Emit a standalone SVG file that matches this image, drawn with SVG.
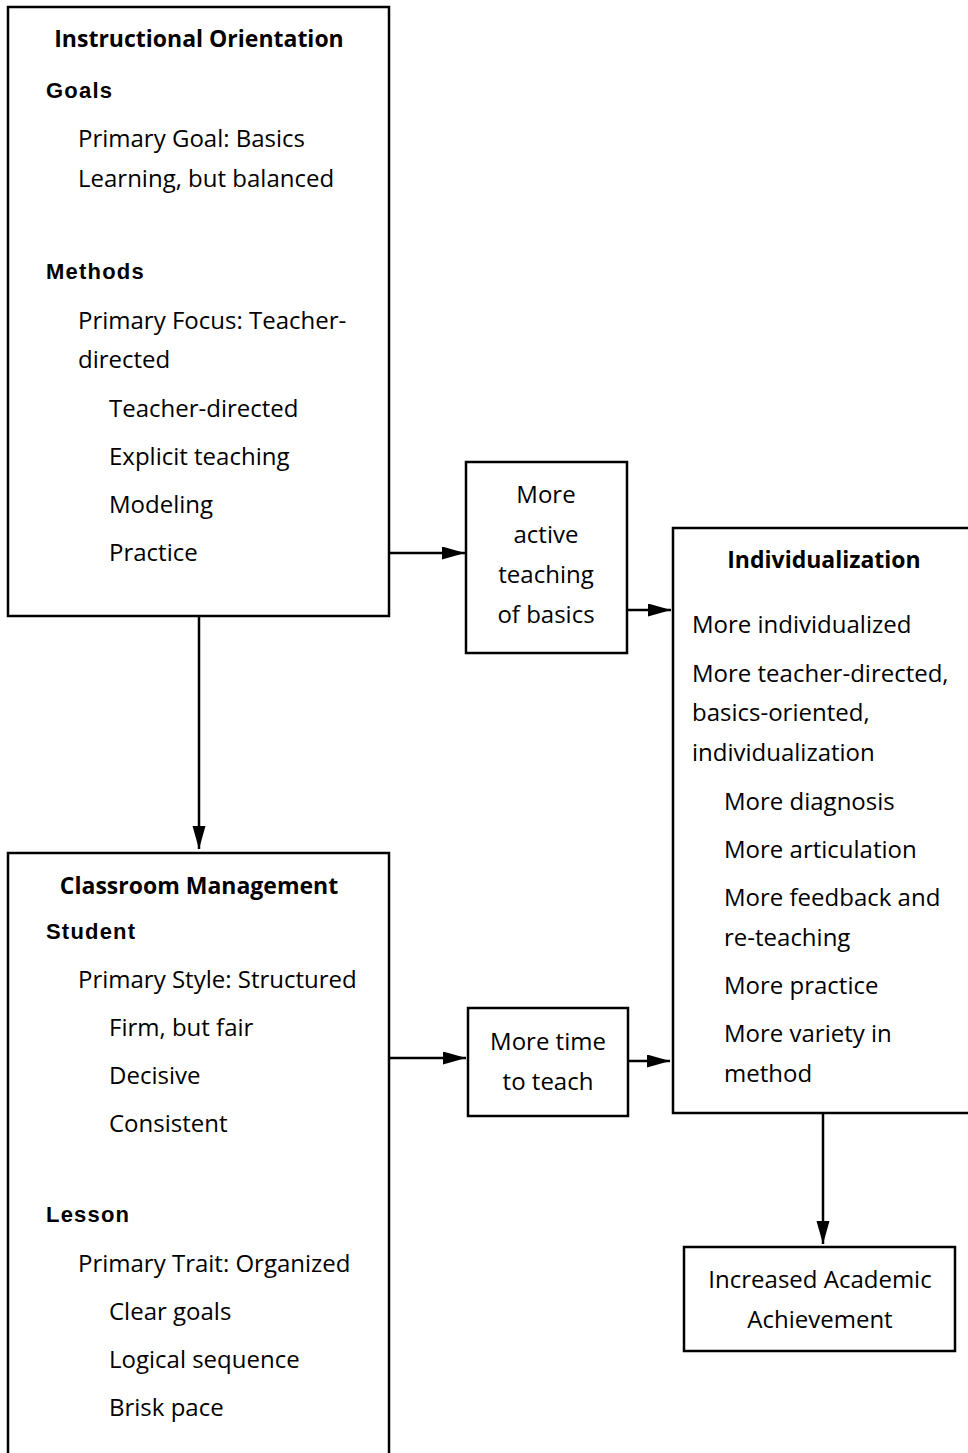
<svg xmlns="http://www.w3.org/2000/svg" width="968" height="1453" viewBox="0 0 968 1453">
<style>
.box{fill:#fff;stroke:#000;stroke-width:2.5}
.t{font-family:"Open Sans","Liberation Sans",sans-serif;font-size:24px;fill:#000}
.c{text-anchor:middle}
.h{font-family:"Open Sans","Liberation Sans",sans-serif;font-size:23px;font-weight:700;fill:#000;text-anchor:middle}
.s{font-family:"Liberation Sans",Arial,sans-serif;font-size:22px;font-weight:700;letter-spacing:1.2px;fill:#000}
.con{stroke:#000;stroke-width:2.5;fill:none}
</style>
<defs>
<marker id="arr" markerUnits="userSpaceOnUse" markerWidth="24" markerHeight="14" refX="23" refY="6.5" orient="auto">
<path d="M0,0 L23,6.5 L0,13 z" fill="#000"/>
</marker>
</defs>
<g id="connectors">
<line class="con" x1="389" y1="553" x2="465" y2="553" marker-end="url(#arr)"/>
<line class="con" x1="627" y1="610" x2="671" y2="610" marker-end="url(#arr)"/>
<line class="con" x1="199" y1="616" x2="199" y2="849" marker-end="url(#arr)"/>
<line class="con" x1="389" y1="1058" x2="466" y2="1058" marker-end="url(#arr)"/>
<line class="con" x1="628" y1="1061" x2="670" y2="1061" marker-end="url(#arr)"/>
<line class="con" x1="823" y1="1113" x2="823" y2="1244" marker-end="url(#arr)"/>
</g>
<g id="instructional-orientation">
<rect class="box" x="8" y="7" width="381" height="609"/>
<text class="h" x="199" y="47">Instructional Orientation</text>
<text class="s" x="46" y="98">Goals</text>
<text class="t" x="78" y="147">Primary Goal: Basics</text>
<text class="t" x="78" y="187">Learning, but balanced</text>
<text class="s" x="46" y="279">Methods</text>
<text class="t" x="78" y="329">Primary Focus: Teacher-</text>
<text class="t" x="78" y="368">directed</text>
<text class="t" x="109" y="417">Teacher-directed</text>
<text class="t" x="109" y="465">Explicit teaching</text>
<text class="t" x="109" y="513">Modeling</text>
<text class="t" x="109" y="561">Practice</text>
</g>
<g id="active-teaching">
<rect class="box" x="466" y="462" width="161" height="191"/>
<text class="t c" x="546" y="503">More</text>
<text class="t c" x="546" y="543">active</text>
<text class="t c" x="546" y="583">teaching</text>
<text class="t c" x="546" y="623">of basics</text>
</g>
<g id="individualization">
<rect class="box" x="673" y="528" width="310" height="585"/>
<text class="h" x="824" y="568">Individualization</text>
<text class="t" x="692" y="633">More individualized</text>
<text class="t" x="692" y="682">More teacher-directed,</text>
<text class="t" x="692" y="721">basics-oriented,</text>
<text class="t" x="692" y="761">individualization</text>
<text class="t" x="724" y="810">More diagnosis</text>
<text class="t" x="724" y="858">More articulation</text>
<text class="t" x="724" y="906">More feedback and</text>
<text class="t" x="724" y="946">re-teaching</text>
<text class="t" x="724" y="994">More practice</text>
<text class="t" x="724" y="1042">More variety in</text>
<text class="t" x="724" y="1082">method</text>
</g>
<g id="classroom-management">
<rect class="box" x="8" y="853" width="381" height="620"/>
<text class="h" x="199" y="894">Classroom Management</text>
<text class="s" x="46" y="939">Student</text>
<text class="t" x="78" y="988">Primary Style: Structured</text>
<text class="t" x="109" y="1036">Firm, but fair</text>
<text class="t" x="109" y="1084">Decisive</text>
<text class="t" x="109" y="1132">Consistent</text>
<text class="s" x="46" y="1222">Lesson</text>
<text class="t" x="78" y="1272">Primary Trait: Organized</text>
<text class="t" x="109" y="1320">Clear goals</text>
<text class="t" x="109" y="1368">Logical sequence</text>
<text class="t" x="109" y="1416">Brisk pace</text>
</g>
<g id="time-to-teach">
<rect class="box" x="468" y="1008" width="160" height="108"/>
<text class="t c" x="548" y="1050">More time</text>
<text class="t c" x="548" y="1090">to teach</text>
</g>
<g id="achievement">
<rect class="box" x="684" y="1247" width="271" height="104"/>
<text class="t c" x="820" y="1288">Increased Academic</text>
<text class="t c" x="820" y="1328">Achievement</text>
</g>
</svg>
